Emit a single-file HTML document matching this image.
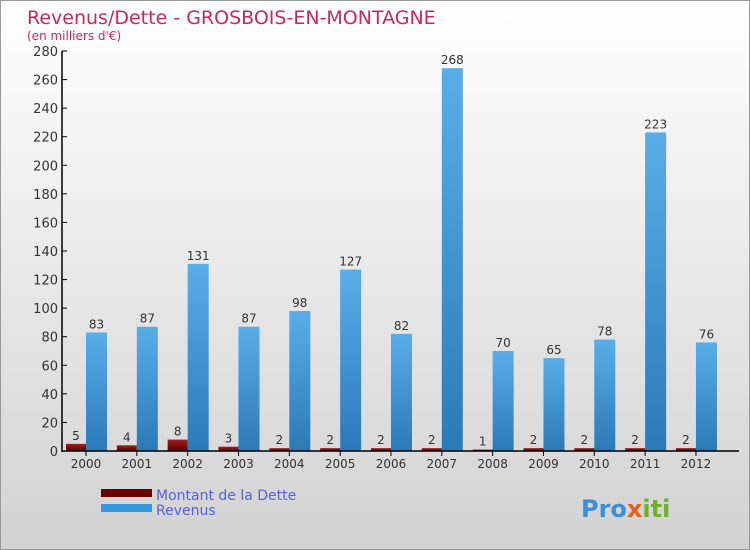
<!DOCTYPE html>
<html><head><meta charset="utf-8"><style>
body{margin:0}
#c{position:relative;width:748px;height:548px;border:1px solid #999;background:linear-gradient(#ffffff,#d2d2d2);font-family:"DejaVu Sans","Liberation Sans",sans-serif;overflow:hidden}
</style></head><body>
<div id="c">
<svg id="s" width="748" height="548" style="position:absolute;left:0;top:0">
<defs>
<linearGradient id="gr" x1="0" x2="0" y1="0" y2="1"><stop offset="0" stop-color="#5aaee8"/><stop offset="1" stop-color="#2a7ab8"/></linearGradient>
<linearGradient id="gd" x1="0" x2="0" y1="0" y2="1"><stop offset="0" stop-color="#a02020"/><stop offset="1" stop-color="#5a0000"/></linearGradient>
</defs>
<text x="26" y="23" font-size="19" fill="#c8285a">Revenus/Dette - GROSBOIS-EN-MONTAGNE</text>
<text x="26" y="39" font-size="12" fill="#c8285a">(en milliers d'€)</text>
<g id="g"></g>
<rect x="100" y="488" width="51" height="8" fill="#6a0000"/>
<text x="155" y="499" font-size="14" fill="#5560ee">Montant de la Dette</text>
<rect x="100" y="503" width="51" height="8" fill="#3498dc"/>
<text x="155" y="514" font-size="14" fill="#5560ee">Revenus</text>
<text x="580" y="516" font-size="24" font-weight="bold"><tspan fill="#3a8fd8">Pro</tspan><tspan fill="#e86010">x</tspan><tspan fill="#70b030">iti</tspan></text>
</svg>
</div>
<script>
const years=["2000","2001","2002","2003","2004","2005","2006","2007","2008","2009","2010","2011","2012"];
const debt=[5,4,8,3,2,2,2,2,1,2,2,2,2];
const revenue=[83,87,131,87,98,127,82,268,70,65,78,223,76];
const yTicks=[0,20,40,60,80,100,120,140,160,180,200,220,240,260,280];
const NS="http://www.w3.org/2000/svg";
const g=document.getElementById('g');
const y0=450,yMax=280,ph=400,x0=85,step=50.83;
const ys=v=>y0-v/yMax*ph, xs=i=>x0+i*step;
function mk(t,a,p){const e=document.createElementNS(NS,t);for(const k in a)e.setAttribute(k,a[k]);(p||g).appendChild(e);return e;}
yTicks.forEach(t=>{
 const tk=mk('line',{x1:61,x2:66,y1:ys(t),y2:ys(t),stroke:'#000'});
 
 
 const l=mk('text',{x:57,y:ys(t)+5,'text-anchor':'end','font-size':13,fill:'#333'});
 l.textContent=t;
 
 
});
years.forEach((yr,i)=>{
 const cx=xs(i);
 const d=mk('rect',{x:cx-20,y:ys(debt[i]),width:20,height:y0-ys(debt[i]),fill:'url(#gd)'});
 
 
 const r=mk('rect',{x:cx,y:ys(revenue[i]),width:21,height:y0-ys(revenue[i]),fill:'url(#gr)'});
 
 
 const dl=mk('text',{x:cx-10,y:ys(debt[i])-4,'text-anchor':'middle','font-size':12,fill:'#333'});
 dl.textContent=debt[i];
 
 
 const rl=mk('text',{x:cx+10.5,y:ys(revenue[i])-4,'text-anchor':'middle','font-size':12,fill:'#333'});
 rl.textContent=revenue[i];
 
 
 const tk=mk('line',{x1:cx,x2:cx,y1:450,y2:455,stroke:'#000'});
 
 
 const xl=mk('text',{x:cx,y:467,'text-anchor':'middle','font-size':12,fill:'#333'});
 xl.textContent=yr;
 
 
});
const ax=mk('line',{x1:61,x2:61,y1:50,y2:451,stroke:'#000','stroke-width':1.5});


const bx=mk('line',{x1:61,x2:738,y1:450,y2:450,stroke:'#000','stroke-width':1.5});


</script>
</body></html>
